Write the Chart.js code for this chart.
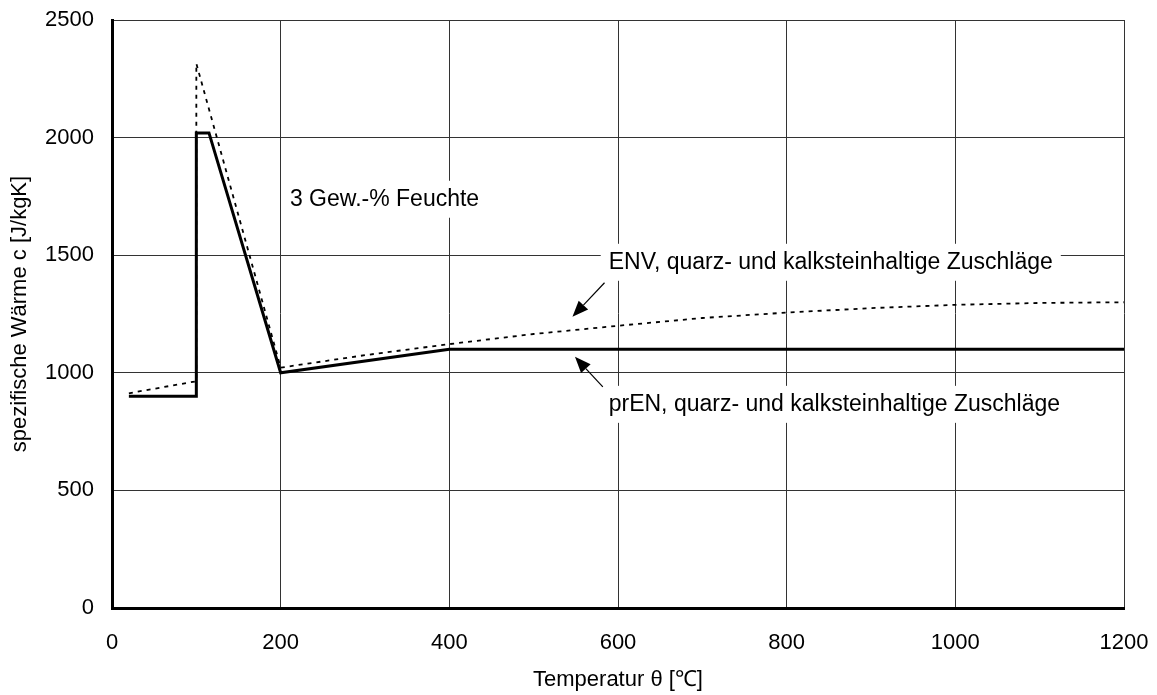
<!DOCTYPE html>
<html>
<head>
<meta charset="utf-8">
<title>Spezifische Wärme</title>
<script src="https://cdn.jsdelivr.net/npm/chart.js@4"></script>
<style>
  html, body { margin: 0; padding: 0; background: #fff; }
  #wrap { width: 1157px; height: 695px; position: relative; }
</style>
</head>
<body>
<div id="wrap"><canvas id="chart"></canvas></div>
<script>
// prEN curve (quarz- und kalksteinhaltige Zuschläge, 3 Gew.-% Feuchte)
var prenTemp = [20, 100, 100, 115, 200, 400, 1200];
var prenHeat = [900, 900, 2020, 2020, 1000, 1100, 1100];

// ENV curve incl. moisture peak at 100 °C
var envTemp = [20, 100, 100, 200, 300, 400, 500, 600, 700, 800, 900, 1000, 1100, 1200];
var envHeat = [913, 964, 2315, 1022, 1075, 1122, 1165, 1200, 1233, 1256, 1275, 1289, 1297, 1300];

var xTicks = [0, 200, 400, 600, 800, 1000, 1200];
var yTicks = [0, 500, 1000, 1500, 2000, 2500];

// text labels and arrows, in data units
var notes = [
    { text: '3 Gew.-% Feuchte', t: 211, c: 1740 },
    { text: 'ENV, quarz- und kalksteinhaltige Zuschläge', t: 589, c: 1472 },
    { text: 'prEN, quarz- und kalksteinhaltige Zuschläge', t: 589, c: 868 }
];
var arrows = [
    { from: [584, 1383], to: [546, 1238] },
    { from: [582, 940], to: [549, 1068] }
];

var FONT = '"Liberation Sans", Arial, sans-serif';

function toPoints(xs, ys) {
    return xs.map(function(x, i){ return { x: x, y: ys[i] }; });
}

var notesPlugin = {
    id: 'notes',
    beforeDatasetsDraw: function(chart) { // white boxes over the grid
        var ctx = chart.ctx, xs = chart.scales.x, ys = chart.scales.y;
        ctx.save();
        ctx.font = '23px ' + FONT;
        ctx.textBaseline = 'middle';
        notes.forEach(function(n){
            var px = xs.getPixelForValue(n.t), py = ys.getPixelForValue(n.c);
            var w = ctx.measureText(n.text).width;
            ctx.fillStyle = '#fff';
            ctx.fillRect(px - 8, py - 18, w + 16, 37);
            ctx.fillStyle = '#000';
            ctx.fillText(n.text, px, py + 1);
        });
        ctx.restore();
    },
    afterDatasetsDraw: function(chart) { // arrows
        var ctx = chart.ctx, xs = chart.scales.x, ys = chart.scales.y;
        ctx.save();
        ctx.strokeStyle = '#000';
        ctx.fillStyle = '#000';
        ctx.lineWidth = 1.2;
        arrows.forEach(function(a){
            var x0 = xs.getPixelForValue(a.from[0]), y0 = ys.getPixelForValue(a.from[1]);
            var x1 = xs.getPixelForValue(a.to[0]), y1 = ys.getPixelForValue(a.to[1]);
            var ang = Math.atan2(y1 - y0, x1 - x0);
            var len = 16, hw = 6.5;
            var bx = x1 - len * Math.cos(ang), by = y1 - len * Math.sin(ang);
            ctx.beginPath();
            ctx.moveTo(x0, y0);
            ctx.lineTo(bx, by);
            ctx.stroke();
            ctx.beginPath();
            ctx.moveTo(x1, y1);
            ctx.lineTo(bx + hw * Math.sin(ang), by - hw * Math.cos(ang));
            ctx.lineTo(bx - hw * Math.sin(ang), by + hw * Math.cos(ang));
            ctx.closePath();
            ctx.fill();
        });
        ctx.restore();
    }
};

function plain(v) { return String(v); }

var ctx = document.getElementById('chart').getContext('2d');
var chart = new Chart(ctx, {
    type: 'line',
    data: {
        datasets: [{
            label: 'ENV',
            data: toPoints(envTemp, envHeat),
            borderColor: '#000',
            borderWidth: 1.8,
            borderDash: [4, 5],
            pointRadius: 0,
            tension: 0
        }, {
            label: 'prEN',
            data: toPoints(prenTemp, prenHeat),
            borderColor: '#000',
            borderWidth: 3,
            pointRadius: 0,
            tension: 0,
            borderJoinStyle: 'miter'
        }]
    },
    options: {
        responsive: true,
        maintainAspectRatio: false,
        animation: false,
        events: [],
        layout: { padding: { top: 20, right: 33, left: 0, bottom: 0 } },
        plugins: {
            legend: { display: false },
            tooltip: { enabled: false }
        },
        scales: {
            x: {
                type: 'linear',
                min: 0, max: 1200,
                afterBuildTicks: function(scale){ scale.ticks = xTicks.map(function(v){ return { value: v }; }); },
                afterFit: function(scale){
                    scale.height = 87;
                    scale.paddingLeft = 0; // let layout padding decide the plot edges
                    scale.paddingRight = 0;
                },
                grid: { color: '#333', lineWidth: 1, drawTicks: false },
                border: { color: '#000', width: 3 },
                ticks: { color: '#000', padding: 22, maxRotation: 0, callback: plain, font: { family: FONT, size: 22 } },
                title: {
                    display: true,
                    text: 'Temperatur θ [℃]',
                    color: '#000',
                    font: { family: FONT, size: 22 },
                    padding: { top: 0, bottom: 2 }
                }
            },
            y: {
                min: 0, max: 2500,
                afterBuildTicks: function(scale){ scale.ticks = yTicks.map(function(v){ return { value: v }; }); },
                afterFit: function(scale){
                    scale.width = 112;
                    scale.paddingTop = 0;
                    scale.paddingBottom = 0;
                },
                grid: { color: '#333', lineWidth: 1, drawTicks: false },
                border: { color: '#000', width: 3 },
                ticks: { color: '#000', padding: 18, callback: plain, font: { family: FONT, size: 22 } },
                title: {
                    display: true,
                    text: 'spezifische Wärme c [J/kgK]',
                    color: '#000',
                    font: { family: FONT, size: 22 },
                    padding: { top: 7, bottom: 0 }
                }
            }
        }
    },
    plugins: [notesPlugin]
});
</script>
</body>
</html>
